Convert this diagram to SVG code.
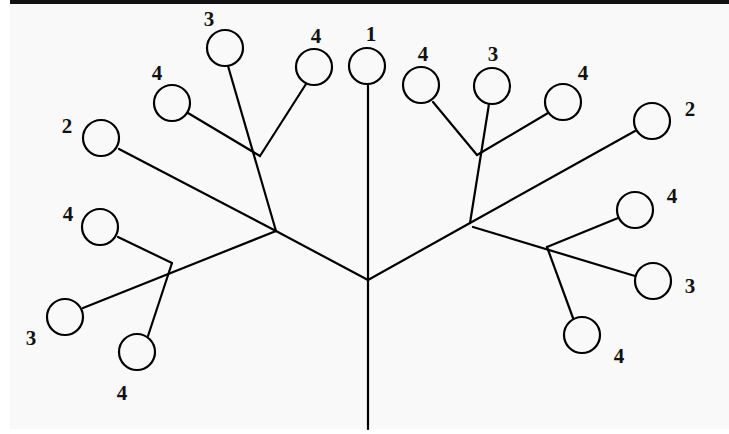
<svg xmlns="http://www.w3.org/2000/svg" width="729" height="434" viewBox="0 0 729 434">
  <style>
    .node circle { fill: none; stroke: #000; stroke-width: 2.2; }
    .node text { font-family: "Liberation Serif", "Times New Roman", serif; font-weight: bold; font-size: 21px; fill: #111; text-anchor: middle; }
    #edges line { stroke: #000; stroke-width: 2.2; stroke-linecap: round; }
  </style>
  <rect x="0" y="0" width="729" height="434" fill="#ffffff"/>
  <rect x="10" y="3" width="719" height="426" fill="#f9f9f9"/>
  <rect x="10" y="0" width="719" height="4" fill="#111"/>

  <g id="edges">
    <!-- trunk -->
    <line x1="368" y1="85" x2="368" y2="429"/>
    <!-- main left and right limbs -->
    <line x1="368" y1="280" x2="276" y2="231"/>
    <line x1="368" y1="280" x2="470" y2="223"/>
    <!-- left upper -->
    <line x1="276" y1="231" x2="119" y2="149"/>
    <line x1="276" y1="231" x2="228" y2="66"/>
    <line x1="188" y1="113" x2="260" y2="156"/>
    <line x1="306" y1="84" x2="260" y2="156"/>
    <!-- left lower -->
    <line x1="276" y1="231" x2="83" y2="308"/>
    <line x1="118" y1="237" x2="172" y2="263"/>
    <line x1="172" y1="263" x2="148" y2="336"/>
    <!-- right upper -->
    <line x1="470" y1="223" x2="635" y2="131"/>
    <line x1="470" y1="223" x2="489" y2="104"/>
    <line x1="433" y1="102" x2="477" y2="155"/>
    <line x1="548" y1="113" x2="477" y2="155"/>
    <!-- right lower -->
    <line x1="473" y1="227" x2="635" y2="276"/>
    <line x1="618" y1="218" x2="547" y2="247"/>
    <line x1="547" y1="247" x2="573" y2="318"/>
  </g>

  <g id="n1" class="node"><circle cx="367" cy="66" r="18"/><text x="371" y="41">1</text></g>

  <g id="nL2" class="node"><circle cx="101" cy="138" r="18"/><text x="67" y="133">2</text></g>
  <g id="nL3a" class="node"><circle cx="225" cy="48" r="18"/><text x="209" y="26">3</text></g>
  <g id="nL4a" class="node"><circle cx="172" cy="103" r="18"/><text x="157" y="80">4</text></g>
  <g id="nL4b" class="node"><circle cx="314" cy="67" r="18"/><text x="316" y="43">4</text></g>
  <g id="nL4c" class="node"><circle cx="100" cy="227" r="18"/><text x="68" y="221">4</text></g>
  <g id="nL3b" class="node"><circle cx="65" cy="317" r="18"/><text x="31" y="345">3</text></g>
  <g id="nL4d" class="node"><circle cx="137" cy="352" r="18"/><text x="122" y="400">4</text></g>

  <g id="nR2" class="node"><circle cx="652" cy="121" r="18"/><text x="690" y="116">2</text></g>
  <g id="nR4a" class="node"><circle cx="421" cy="85" r="18"/><text x="423" y="61">4</text></g>
  <g id="nR3a" class="node"><circle cx="492" cy="86" r="18"/><text x="493" y="61">3</text></g>
  <g id="nR4b" class="node"><circle cx="563" cy="102" r="18"/><text x="583" y="80">4</text></g>
  <g id="nR4c" class="node"><circle cx="635" cy="210" r="18"/><text x="672" y="203">4</text></g>
  <g id="nR3b" class="node"><circle cx="653" cy="281" r="18"/><text x="690" y="293">3</text></g>
  <g id="nR4d" class="node"><circle cx="582" cy="335" r="18"/><text x="619" y="363">4</text></g>
</svg>
